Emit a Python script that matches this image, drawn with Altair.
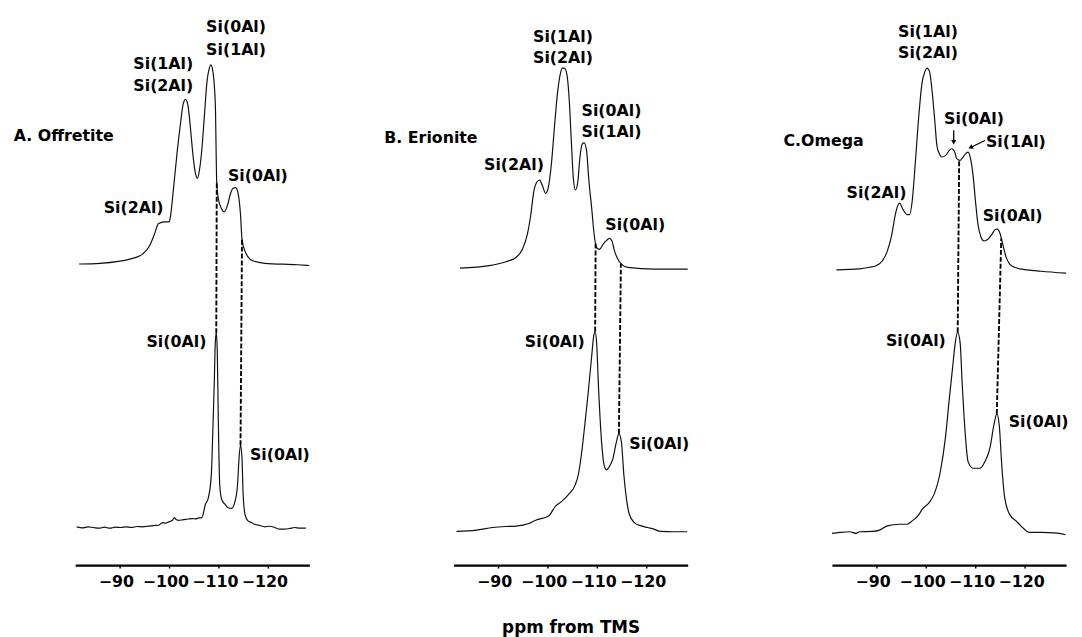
import altair as alt
import numpy as np
import pandas as pd

FONT = "DejaVu Sans"
X_DOMAIN = [-128.3, -81.0]     # ppm (axis runs from -81 on the left to -128.3 on the right)
PANEL_W = 237
PANEL_H = 555
TICKS = [-90, -100, -110, -120]

# ---------------- A. Offretite ----------------
A_TOP_PPM = [-81.8, -86.0, -92.6, -94.6, -96.0, -97.0, -97.8, -99.0, -100.0, -100.3, -100.6, -101.0,
             -101.6, -102.3, -102.8, -103.3, -103.8, -104.3, -104.8, -105.3, -105.7, -106.1, -106.6,
             -107.1, -107.6, -108.1, -108.4, -108.7, -109.3, -109.6, -109.9, -110.5, -111.1, -111.8,
             -112.4, -112.9, -113.4, -113.9, -114.4, -114.7, -115.3, -115.9, -116.9, -119.3, -125.9, -128.3]
A_TOP_INT = [0, 0.7, 5.7, 10, 18.3, 30, 40.7, 42.7, 42.7, 50, 63.3, 83.3,
             113.3, 143.3, 161.7, 166.7, 160, 136.7, 110, 91.7, 86.7, 95, 116.7,
             150, 183.3, 198.3, 201.7, 198.3, 163.3, 81.7, 66.7, 56.7, 52.7, 60,
             71.7, 76.7, 77.3, 71.7, 50, 25, 13, 7.3, 3.3, 0.7, -0.7, -1.5]
A_TOP_BASE = 304.7
A_BOT_PPM = [-81.3, -82.5, -83.6, -84.7, -85.8, -86.9, -88.0, -89.1, -90.2, -91.3, -92.4, -93.5, -94.6,
             -95.7, -96.8, -97.9, -98.6, -99.3, -100.0, -100.6, -101.0, -101.4, -101.8, -102.6, -103.3,
             -104.0, -104.6, -105.3, -106.0, -106.6, -107.3, -107.9, -108.5, -108.8, -109.1, -109.3,
             -109.5, -109.7, -109.9, -110.2, -110.6, -111.3, -111.9, -112.6, -113.3, -113.8, -114.1,
             -114.4, -114.7, -114.9, -115.3, -115.9, -116.6, -117.3, -118.3, -119.3, -120.3, -121.3,
             -122.3, -123.3, -124.3, -125.3, -126.4, -127.6]
A_BOT_INT = [0.7, -0.3, 0.7, 0, -0.7, 0.3, -0.7, 0.3, 0, 0.7, 0, 1.0, 0.7,
             1.3, 2.0, 2.3, 5, 4.3, 6, 7, 10, 8, 7.3, 7.7, 8.3,
             8.7, 9, 8.7, 9.7, 10, 23.3, 30, 53.3, 96.7, 146.7, 186.7,
             196.7, 180, 113.3, 43.3, 28.3, 23.3, 20, 19.3, 26.7, 43.3, 70,
             83.3, 70, 36.7, 13.3, 6.7, 5, 3.3, 2, 0.7, 1.3, 0,
             -1.7, -1.7, -1, 0, -0.7, -0.7]
A_BOT_BASE = 38.0
A_DASH_BOT = [-109.5, -114.4]
A_DASH_TOP = [-109.6, -114.7]
A_LABEL_TEXT = ["A. Offretite", "Si(2Al)", "Si(1Al)", "Si(2Al)", "Si(0Al)", "Si(1Al)", "Si(0Al)", "Si(0Al)", "Si(0Al)"]
A_LABEL_PPM = [-68.6, -92.8, -98.8, -98.8, -113.5, -113.5, -117.9, -107.5, -116.3]
A_LABEL_H = [434, 361, 507, 485, 545, 521, 394, 226, 111]
A_LABEL_ALIGN = ["left", "center", "center", "center", "center", "center", "center", "right", "left"]

# ---------------- B. Erionite ----------------
B_TOP_PPM = [-82.3, -88.2, -91.6, -93.6, -94.9, -95.9, -96.6, -97.2, -97.9, -98.4, -98.9, -99.6, -100.1,
             -100.8, -101.4, -102.0, -102.6, -103.0, -103.4, -103.9, -104.4, -104.8, -105.2, -105.6,
             -106.1, -106.5, -107.0, -107.4, -107.9, -108.3, -108.9, -109.4, -109.9, -110.5, -111.2,
             -111.9, -112.5, -113.0, -113.5, -114.2, -114.9, -116.2, -121.5, -127.5, -128.3]
B_TOP_INT = [-0.7, 1.7, 5.7, 10, 18.3, 33.3, 53.3, 76.7, 86.7, 88.3, 83.3, 75, 80,
             106.7, 143.3, 176.7, 196.7, 201.7, 201.7, 195, 166.7, 126.7, 90, 78.3,
             86.7, 110, 125, 126, 116.7, 90, 60, 33.3, 20, 18.3, 23.3,
             27.3, 29.3, 26.7, 16.7, 8.3, 3.3, 0, -1.7, -1.7, -1.7]
B_TOP_BASE = 301.3
B_BOT_PPM = [-81.6, -85.6, -88.9, -91.6, -93.6, -96.2, -97.6, -100.2, -101.6, -102.9, -104.2, -105.6,
             -106.2, -106.9, -107.5, -108.2, -108.9, -109.3, -109.6, -109.9, -110.3, -110.9, -111.4,
             -111.9, -112.5, -113.2, -113.9, -114.4, -114.9, -115.4, -115.9, -116.5, -117.5, -118.9,
             -120.2, -121.5, -122.8, -125.5, -128.2]
B_BOT_INT = [-0.7, 0.7, 3.3, 4.3, 4.7, 7.3, 10.7, 15, 25, 30, 36.7, 46.7,
             56.7, 80, 106.7, 140, 176.7, 196.7, 201.7, 190, 143.3, 90, 66.7,
             61.7, 65, 73.3, 90, 98.3, 90, 56.7, 33.3, 16.7, 8.3, 5,
             3.3, 1.7, -0.7, -1, -1]
B_BOT_BASE = 34.7
B_DASH_BOT = [-109.6, -114.4]
B_DASH_TOP = [-109.7, -114.8]
B_LABEL_TEXT = ["B. Erionite", "Si(2Al)", "Si(1Al)", "Si(2Al)", "Si(0Al)", "Si(1Al)", "Si(0Al)", "Si(0Al)", "Si(0Al)"]
B_LABEL_PPM = [-67.0, -93.2, -103.1, -103.1, -112.9, -112.9, -117.7, -107.5, -116.5]
B_LABEL_H = [432, 404.5, 534.5, 513, 459.5, 438, 344.5, 225.5, 122.5]
B_LABEL_ALIGN = ["left", "center", "center", "center", "center", "center", "center", "right", "left"]

# ---------------- C. Omega ----------------
C_TOP_PPM = [-81.9, -86.6, -88.6, -89.9, -91.2, -92.2, -93.1, -93.8, -94.3, -94.7, -95.2, -96.2, -96.7,
             -97.2, -97.9, -98.6, -99.2, -99.8, -100.2, -100.7, -101.2, -101.8, -102.2, -102.7, -103.2,
             -104.0, -104.7, -105.2, -105.8, -106.2, -106.9, -107.5, -108.2, -108.5, -109.0, -109.5,
             -110.0, -110.5, -111.1, -111.7, -112.5, -113.3, -114.0, -114.4, -114.9, -115.5, -116.2,
             -116.9, -117.9, -120.5, -123.2, -128.3]
C_TOP_INT = [0, 1, 2.7, 4.3, 9.3, 19.3, 36, 56, 65.3, 67.7, 62.7, 56, 56,
             69.3, 112.7, 159.3, 189.3, 201, 204.3, 201, 182.7, 149.3, 126, 117.7, 114.3,
             116, 121, 122.7, 119.3, 112.7, 111, 114.3, 118.7, 119.3, 112.7, 96,
             69.3, 46, 33.3, 29.3, 31, 36, 41, 41.3, 37.7, 26, 12.7,
             6, 2.7, 0, -1.3, -3.3]
C_TOP_BASE = 298.7
C_BOT_PPM = [-81.0, -82.6, -84.6, -85.9, -86.6, -89.2, -90.6, -92.2, -94.6, -96.2, -97.2, -98.6, -99.2,
             -100.6, -101.6, -102.9, -103.9, -104.7, -105.4, -105.9, -106.4, -106.9, -107.3, -107.9,
             -108.5, -109.5, -110.9, -111.9, -112.9, -113.7, -114.3, -114.8, -115.3, -115.9, -116.9,
             -118.2, -119.5, -120.9, -123.2, -126.5, -128.2]
C_BOT_INT = [0, 1, 1.7, 0, 1.7, 2, 3.3, 7.7, 9.3, 9.3, 12.7, 19.3, 24.3,
             31, 39.3, 62.7, 96, 136, 169.3, 192.7, 203.7, 192.7, 152.7, 102.7,
             72.7, 66, 66, 72.7, 86, 109.3, 121, 109.3, 69.3, 36, 19.3,
             12.7, 6, 1, 1, 0.3, -1.3]
C_BOT_BASE = 32.0
C_DASH_BOT = [-106.4, -114.3]
C_DASH_TOP = [-106.7, -115.2]
C_LABEL_TEXT = ["C.Omega", "Si(2Al)", "Si(1Al)", "Si(2Al)", "Si(0Al)", "Si(1Al)", "Si(0Al)", "Si(0Al)", "Si(0Al)"]
C_LABEL_PPM = [-71.2, -90.0, -100.4, -100.4, -109.7, -112.1, -117.5, -104.0, -116.7]
C_LABEL_H = [429, 376.5, 539.5, 518, 451.5, 428.5, 353.5, 226.5, 144.5]
C_LABEL_ALIGN = ["left", "center", "center", "center", "center", "left", "center", "right", "left"]
# arrows pointing at the two small Omega peaks: start / end (ppm, height)
C_ARROW_PPM = [-105.6, -111.9]
C_ARROW_H = [440, 429.7]
C_ARROW_PPM2 = [-105.6, -109.0]
C_ARROW_H2 = [428, 422.6]
C_HEAD_ANGLE = [180, 242]


def interp(ppm, xs, ys):
    xs = np.asarray(xs)[::-1]
    ys = np.asarray(ys)[::-1]
    return float(np.interp(ppm, xs, ys))


def make_panel(top_ppm, top_int, top_base, bot_ppm, bot_int, bot_base,
               dash_bot, dash_top, lab_text, lab_ppm, lab_h, lab_align,
               arrows=None, title=None):
    assert len(top_ppm) == len(top_int) and len(bot_ppm) == len(bot_int)
    xs = alt.Scale(domain=X_DOMAIN, reverse=True, nice=False, zero=False)
    ys = alt.Scale(domain=[0, PANEL_H], nice=False, zero=False)
    axis = alt.Axis(values=TICKS, grid=False, domainColor="black", domainWidth=2.2,
                    tickColor="black", tickSize=3, tickWidth=1.5,
                    labelFont=FONT, labelFontWeight="bold", labelFontSize=16, labelColor="black",
                    labelPadding=6, labelOffset=-4, labelOverlap=False, labelFlush=False,
                    title=title, titleFont=FONT, titleFontWeight="bold", titleFontSize=17,
                    titleColor="black", titlePadding=30)
    X = alt.X("ppm:Q", scale=xs, axis=axis)
    Y = alt.Y("h:Q", scale=ys, axis=None)

    spec = pd.concat([
        pd.DataFrame({"ppm": top_ppm, "h": np.asarray(top_int) + top_base, "trace": "top",
                      "idx": range(len(top_ppm))}),
        pd.DataFrame({"ppm": bot_ppm, "h": np.asarray(bot_int) + bot_base, "trace": "bottom",
                      "idx": range(len(bot_ppm))}),
    ])
    lines = alt.Chart(spec).mark_line(color="#111111", strokeWidth=1.2, interpolate="monotone").encode(
        x=X, y=Y, detail="trace:N", order="idx:Q")

    dash = pd.DataFrame({
        "ppm": dash_bot,
        "ppm2": dash_top,
        "h": [interp(p, bot_ppm, bot_int) + bot_base for p in dash_bot],
        "h2": [interp(p, top_ppm, top_int) + top_base for p in dash_top],
    })
    dashes = alt.Chart(dash).mark_rule(color="black", strokeWidth=1.9, strokeDash=[5, 2]).encode(
        x=X, x2="ppm2:Q", y=Y, y2="h2:Q")

    labels = pd.DataFrame({"text": lab_text, "ppm": lab_ppm, "h": lab_h, "align": lab_align})
    layers = [lines, dashes]
    for al in ["left", "center", "right"]:
        sub = labels[labels["align"] == al]
        if len(sub):
            layers.append(alt.Chart(sub).mark_text(
                align=al, baseline="middle", font=FONT, fontWeight="bold", fontSize=16, color="black"
            ).encode(x=X, y=Y, text="text:N"))

    if arrows is not None:
        a_ppm, a_h, a_ppm2, a_h2, a_ang = arrows
        arr = pd.DataFrame({"ppm": a_ppm, "h": a_h, "ppm2": a_ppm2, "h2": a_h2})
        layers.append(alt.Chart(arr).mark_rule(color="black", strokeWidth=1.3).encode(
            x=X, x2="ppm2:Q", y=Y, y2="h2:Q"))
        heads = pd.DataFrame({"ppm": a_ppm2, "h": a_h2, "ang": a_ang})
        layers.append(alt.Chart(heads).mark_point(shape="triangle-up", filled=True, size=28,
                                                  color="black", opacity=1, strokeWidth=0).encode(
            x=X, y=Y, angle=alt.Angle("ang:Q", scale=None)))

    return alt.layer(*layers).properties(width=PANEL_W, height=PANEL_H)


panel_a = make_panel(A_TOP_PPM, A_TOP_INT, A_TOP_BASE, A_BOT_PPM, A_BOT_INT, A_BOT_BASE,
                     A_DASH_BOT, A_DASH_TOP, A_LABEL_TEXT, A_LABEL_PPM, A_LABEL_H, A_LABEL_ALIGN)
panel_b = make_panel(B_TOP_PPM, B_TOP_INT, B_TOP_BASE, B_BOT_PPM, B_BOT_INT, B_BOT_BASE,
                     B_DASH_BOT, B_DASH_TOP, B_LABEL_TEXT, B_LABEL_PPM, B_LABEL_H, B_LABEL_ALIGN,
                     title="ppm from TMS")
panel_c = make_panel(C_TOP_PPM, C_TOP_INT, C_TOP_BASE, C_BOT_PPM, C_BOT_INT, C_BOT_BASE,
                     C_DASH_BOT, C_DASH_TOP, C_LABEL_TEXT, C_LABEL_PPM, C_LABEL_H, C_LABEL_ALIGN,
                     arrows=(C_ARROW_PPM, C_ARROW_H, C_ARROW_PPM2, C_ARROW_H2, C_HEAD_ANGLE))

chart = alt.hconcat(panel_a, panel_b, panel_c, spacing=146, bounds="flush").properties(
    padding={"left": 5, "top": 5, "right": 5, "bottom": 0},
    background="white",
).configure_view(stroke=None)

chart.save("out.html", embed_options={"renderer": "svg", "actions": False})
